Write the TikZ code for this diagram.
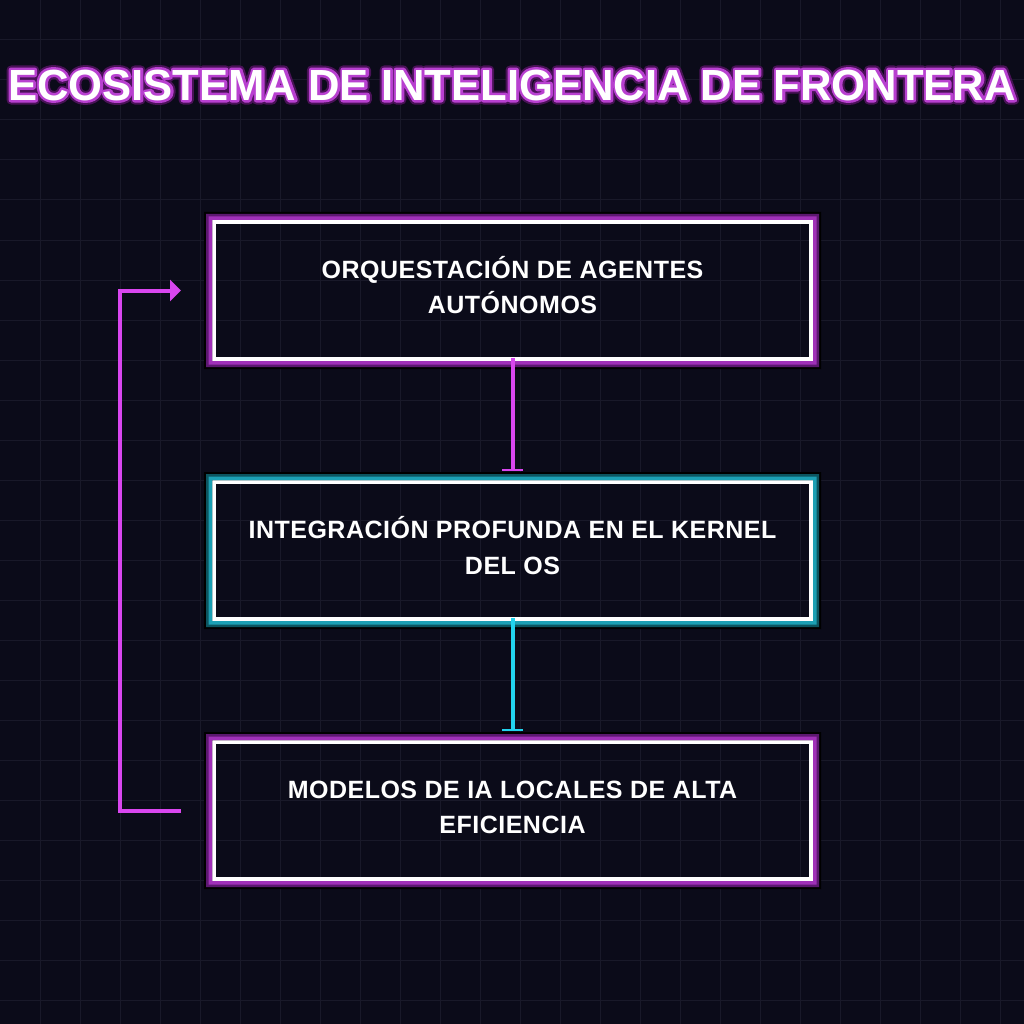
\documentclass[tikz,border=0pt]{standalone}
\usepackage{fontspec}
\setmainfont{Liberation Sans}
\newfontfamily\boxfont{Liberation Sans}[LetterSpace=2]
\usetikzlibrary{arrows.meta,calc}
\definecolor{bgc}{HTML}{0B0B19}
\definecolor{gridc}{HTML}{191929}
\definecolor{mag}{HTML}{D946EF}
\definecolor{cyn}{HTML}{22D3EE}
\definecolor{plight}{HTML}{A030B8}
\definecolor{pdark}{HTML}{5C1870}
\definecolor{clight}{HTML}{1CA0B4}
\definecolor{cdark}{HTML}{0C5560}
\definecolor{tlight}{HTML}{B840D0}
\definecolor{tdark}{HTML}{4A1258}
\newcommand\myglow[3]{%
  \fill[black,even odd rule] ([shift={(-10pt,-10pt)}]#1.south west) rectangle ([shift={(10pt,10pt)}]#1.north east)
    ([shift={(-2pt,-2pt)}]#1.south west) rectangle ([shift={(2pt,2pt)}]#1.north east);
  \fill[#2,even odd rule] ([shift={(-8pt,-8pt)}]#1.south west) rectangle ([shift={(8pt,8pt)}]#1.north east)
    ([shift={(-2pt,-2pt)}]#1.south west) rectangle ([shift={(2pt,2pt)}]#1.north east);
  \fill[#3,even odd rule] ([shift={(-5.5pt,-5.5pt)}]#1.south west) rectangle ([shift={(5.5pt,5.5pt)}]#1.north east)
    ([shift={(-2pt,-2pt)}]#1.south west) rectangle ([shift={(2pt,2pt)}]#1.north east);
}
\newcommand\titletext{ECOSISTEMA DE INTELIGENCIA DE FRONTERA}
\newcommand\strokedtext[2]{\special{pdf:literal direct 1 Tr #1 w 1 j}#2\special{pdf:literal direct 0 Tr}}
\begin{document}
\begin{tikzpicture}[x=1pt,y=-1pt,
  stepbox/.style={rectangle, draw=white, line width=4pt, outer sep=0pt, inner sep=0pt,
    minimum width=597pt, minimum height=137pt},
  steptext/.style={inner sep=0pt, align=center, text=white,
    font=\boxfont\bfseries\fontsize{25}{35.6}\selectfont},
  titlestyle/.style={inner sep=0pt, font=\bfseries\fontsize{43.6}{50}\selectfont},
  flowm/.style={draw=mag, line width=4pt, shorten <=-1pt, shorten >=11pt, -{Bar[width=21pt,line width=2.5pt]}},
  flowc/.style={draw=cyn, line width=4pt, shorten <=-1pt, shorten >=11pt, -{Bar[width=21pt,line width=2.5pt]}},
  fb/.style={draw=mag, line width=4pt, -{Triangle[length=11pt,width=21pt]}}]
\fill[bgc] (0,0) rectangle (1024,1024);
\useasboundingbox (0,0) rectangle (1024,1024);
\foreach \i in {40,80,...,1000}{
  \draw[gridc, line width=1pt] (\i,0) -- (\i,1024);
  \draw[gridc, line width=1pt] (0,\i) -- (1024,\i);
}
% title with glow
\node[titlestyle, text=tdark] (titleglow) at (512,85) {\strokedtext{9}{\titletext}};
\node[titlestyle, text=tlight] (titleedge) at (512,85) {\strokedtext{5}{\titletext}};
\node[titlestyle, text=white] (title) at (512,85) {\titletext};
% boxes
\node[stepbox] (b1) at (512.5,290.5) {};
\node[stepbox] (b2) at (512.5,550.5) {};
\node[stepbox] (b3) at (512.5,810.5) {};
\myglow{b1}{pdark}{plight}
\myglow{b2}{cdark}{clight}
\myglow{b3}{pdark}{plight}
\node[steptext] (t1) at ([yshift=5.5pt]b1.center) {ORQUESTACIÓN DE AGENTES\\AUTÓNOMOS};
\node[steptext] (t2) at ([yshift=5pt]b2.center) {INTEGRACIÓN PROFUNDA EN EL KERNEL\\DEL OS};
\node[steptext] (t3) at ([yshift=3pt]b3.center) {MODELOS DE IA LOCALES DE ALTA\\EFICIENCIA};
% connectors
\draw[flowm] (b1.south) -- (b2.north);
\draw[flowc] (b2.south) -- (b3.north);
\coordinate (fbS) at ([xshift=-33pt]b3.west);
\coordinate (fbE) at ([xshift=-33pt]b1.west);
\draw[fb] (fbS) -- ++(-61,0) |- (fbE);
\end{tikzpicture}
\end{document}
